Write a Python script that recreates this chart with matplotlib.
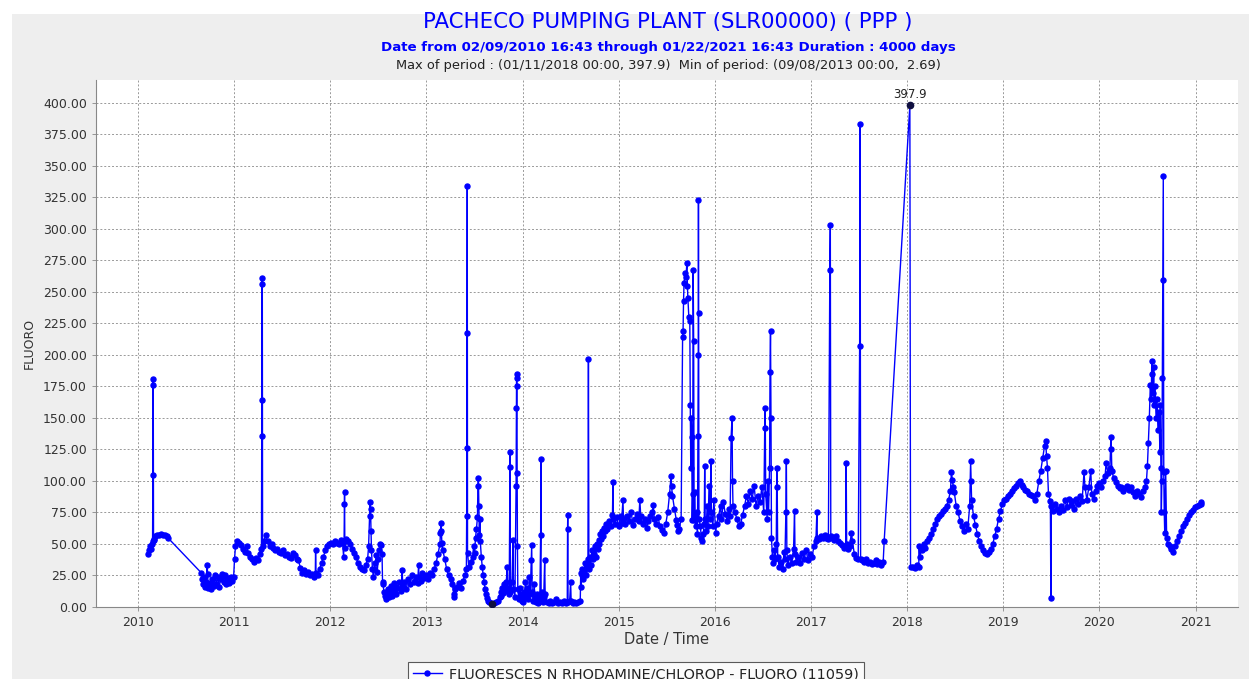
"""
Pacheco Pumping Plant (PPP) fluorometer record, 2010-2021.
Hand-read values from the CDEC time-series plot, redrawn in the same style.
"""

import matplotlib
matplotlib.use("Agg")

import numpy as np
import pandas as pd
import matplotlib.pyplot as plt
import matplotlib.dates as mdates
from matplotlib.patches import Rectangle

# ── Data (decimal year, FLUORO) ───────────────────────────────────────────────
t_2010 = [2010.107, 2010.115, 2010.125, 2010.135, 2010.145, 2010.152, 2010.155, 2010.157,
          2010.159, 2010.162, 2010.17, 2010.18, 2010.20, 2010.22, 2010.24, 2010.26, 2010.28,
          2010.30, 2010.31,
          2010.66, 2010.67, 2010.68, 2010.69, 2010.70, 2010.71, 2010.72, 2010.725, 2010.73,
          2010.745, 2010.76, 2010.775, 2010.79, 2010.80, 2010.815, 2010.83, 2010.845, 2010.86,
          2010.875, 2010.89, 2010.905, 2010.92, 2010.935, 2010.95, 2010.965, 2010.98, 2010.995]
v_2010 = [42, 45, 48, 46, 50, 52, 105, 181,
          176, 53, 54, 56, 57, 57, 58, 57, 57,
          56, 55,
          27, 22, 18, 24, 16, 20, 33, 26, 15,
          19, 14, 22, 17, 25, 18, 24, 16, 22,
          26, 20, 25, 18, 23, 19, 24, 21, 24]

t_2011 = [2011.005, 2011.015, 2011.03, 2011.05, 2011.07, 2011.09, 2011.11, 2011.13, 2011.15,
          2011.17, 2011.19, 2011.21, 2011.23, 2011.25, 2011.27, 2011.285, 2011.288, 2011.29,
          2011.292, 2011.294, 2011.297, 2011.31, 2011.33, 2011.35, 2011.37, 2011.39, 2011.41,
          2011.43, 2011.45, 2011.47, 2011.49, 2011.51, 2011.53, 2011.55, 2011.57, 2011.59,
          2011.61, 2011.63, 2011.65, 2011.67, 2011.69, 2011.71, 2011.73, 2011.75, 2011.77,
          2011.79, 2011.81, 2011.83, 2011.845, 2011.848, 2011.852, 2011.87, 2011.89, 2011.91,
          2011.93, 2011.95, 2011.97, 2011.99]
v_2011 = [38, 48, 52, 51, 49, 46, 44, 48, 43,
          40, 38, 36, 39, 37, 42, 46, 136, 164,
          261, 256, 48, 52, 57, 52, 48, 50, 47,
          45, 46, 44, 43, 45, 41, 42, 40, 39,
          43, 41, 38, 37, 31, 27, 29, 26, 28,
          25, 26, 24, 25, 45, 27, 25, 30, 35,
          40, 45, 48, 50]

t_2012 = [2012.01, 2012.03, 2012.05, 2012.07, 2012.09, 2012.11, 2012.13, 2012.14, 2012.145,
          2012.148, 2012.15, 2012.153, 2012.17, 2012.19, 2012.21, 2012.23, 2012.25, 2012.27,
          2012.29, 2012.31, 2012.33, 2012.35, 2012.37, 2012.39, 2012.40, 2012.41, 2012.415,
          2012.42, 2012.425, 2012.43, 2012.44, 2012.45, 2012.46, 2012.47, 2012.48, 2012.49,
          2012.50, 2012.51, 2012.52, 2012.53, 2012.54, 2012.545, 2012.55, 2012.56, 2012.57,
          2012.58, 2012.59, 2012.60, 2012.61, 2012.62, 2012.63, 2012.64, 2012.65, 2012.66,
          2012.67, 2012.68, 2012.69, 2012.70, 2012.72, 2012.74, 2012.75, 2012.755, 2012.77,
          2012.79, 2012.81, 2012.83, 2012.85, 2012.87, 2012.89, 2012.91, 2012.92, 2012.925,
          2012.94, 2012.96, 2012.98]
v_2012 = [51, 50, 52, 51, 50, 53, 51, 40, 52,
          82, 91, 47, 54, 52, 50, 46, 43, 40,
          35, 32, 30, 29, 33, 38, 48, 72, 83,
          78, 60, 45, 30, 24, 30, 35, 41, 28,
          38, 45, 50, 49, 42, 20, 18, 12, 9,
          6, 10, 14, 8, 12, 17, 9, 14, 19,
          11, 16, 10, 15, 20, 13, 29, 16, 20,
          14, 22, 18, 25, 20, 24, 19, 33, 24,
          21, 27, 23]

t_2013 = [2013.00, 2013.02, 2013.04, 2013.06, 2013.08, 2013.10, 2013.12, 2013.14, 2013.145,
          2013.15, 2013.155, 2013.16, 2013.17, 2013.19, 2013.21, 2013.23, 2013.25, 2013.27,
          2013.285, 2013.29, 2013.30, 2013.32, 2013.34, 2013.36, 2013.38, 2013.40, 2013.415,
          2013.418, 2013.42, 2013.422, 2013.424, 2013.427, 2013.44, 2013.46, 2013.48, 2013.49,
          2013.50, 2013.51, 2013.52, 2013.53, 2013.535, 2013.54, 2013.545, 2013.55, 2013.555,
          2013.56, 2013.57, 2013.58, 2013.59, 2013.60, 2013.61, 2013.62, 2013.63, 2013.64,
          2013.65, 2013.67, 2013.686, 2013.70, 2013.72, 2013.74, 2013.76, 2013.77, 2013.78,
          2013.79, 2013.80, 2013.81, 2013.82, 2013.83, 2013.84, 2013.845, 2013.86, 2013.868,
          2013.87, 2013.873, 2013.89, 2013.90, 2013.905, 2013.92, 2013.932, 2013.935, 2013.937,
          2013.939, 2013.941, 2013.943, 2013.946, 2013.95, 2013.96, 2013.97, 2013.98, 2013.99]
v_2013 = [25, 22, 27, 25, 30, 35, 42, 50, 59,
          67, 60, 51, 45, 38, 30, 25, 22, 18,
          10, 8, 14, 16, 19, 15, 21, 25, 30,
          72, 126, 217, 334, 43, 32, 36, 40, 48,
          43, 55, 62, 71, 96, 102, 80, 57, 70,
          52, 40, 32, 25, 20, 14, 10, 7, 5,
          4, 3.5, 2.69, 3, 4, 5, 8, 12, 9,
          15, 11, 18, 13, 20, 32, 15, 10, 111,
          123, 12, 20, 53, 14, 8, 96, 158, 185,
          182, 175, 106, 48, 14, 6, 15, 10, 5]

t_2014 = [2014.00, 2014.01, 2014.02, 2014.03, 2014.04, 2014.05, 2014.06, 2014.07, 2014.08,
          2014.09, 2014.095, 2014.10, 2014.11, 2014.12, 2014.13, 2014.14, 2014.15, 2014.16,
          2014.17, 2014.18, 2014.188, 2014.19, 2014.193, 2014.20, 2014.21, 2014.22, 2014.23,
          2014.235, 2014.25, 2014.27, 2014.29, 2014.31, 2014.33, 2014.35, 2014.37, 2014.39,
          2014.41, 2014.43, 2014.45, 2014.465, 2014.468, 2014.47, 2014.473, 2014.49, 2014.50,
          2014.505, 2014.52, 2014.54, 2014.56, 2014.58, 2014.60, 2014.605, 2014.61, 2014.615,
          2014.62, 2014.63, 2014.64, 2014.65, 2014.66, 2014.67, 2014.68, 2014.685, 2014.69,
          2014.70, 2014.71, 2014.72, 2014.73, 2014.74, 2014.75, 2014.76, 2014.77, 2014.78,
          2014.79, 2014.80, 2014.81, 2014.82, 2014.83, 2014.84, 2014.85, 2014.86, 2014.87,
          2014.88, 2014.90, 2014.92, 2014.935, 2014.94, 2014.945, 2014.96, 2014.98]
v_2014 = [4, 12, 8, 20, 9, 15, 6, 24, 10,
          37, 49, 12, 5, 18, 7, 4, 10, 3,
          6, 8, 57, 117, 5, 12, 4, 8, 37,
          10, 4, 3, 5, 3, 4, 6, 3, 4,
          3, 5, 3, 4, 62, 73, 4, 5, 20,
          5, 3, 4, 3, 4, 5, 27, 16, 25,
          30, 22, 28, 35, 25, 32, 38, 197, 30,
          40, 33, 45, 38, 42, 48, 40, 50, 46,
          53, 50, 58, 54, 60, 56, 63, 60, 66,
          62, 68, 64, 73, 99, 70, 66, 71]

t_2015 = [2015.00, 2015.02, 2015.03, 2015.045, 2015.05, 2015.07, 2015.09, 2015.11, 2015.13,
          2015.15, 2015.17, 2015.19, 2015.21, 2015.22, 2015.23, 2015.25, 2015.27, 2015.29,
          2015.31, 2015.33, 2015.35, 2015.36, 2015.37, 2015.39, 2015.41, 2015.43, 2015.45,
          2015.47, 2015.49, 2015.51, 2015.53, 2015.545, 2015.55, 2015.56, 2015.58, 2015.60,
          2015.61, 2015.62, 2015.63, 2015.65, 2015.665, 2015.67, 2015.675, 2015.68, 2015.69,
          2015.70, 2015.71, 2015.715, 2015.72, 2015.73, 2015.74, 2015.745, 2015.75, 2015.755,
          2015.76, 2015.765, 2015.77, 2015.775, 2015.78, 2015.785, 2015.79, 2015.80, 2015.81,
          2015.82, 2015.825, 2015.828, 2015.83, 2015.832, 2015.835, 2015.85, 2015.86, 2015.87,
          2015.88, 2015.89, 2015.895, 2015.90, 2015.91, 2015.92, 2015.93, 2015.94, 2015.95,
          2015.96, 2015.965, 2015.98, 2015.99]
v_2015 = [64, 72, 67, 85, 70, 66, 72, 68, 75,
          65, 70, 74, 68, 85, 72, 66, 70, 63,
          68, 72, 75, 81, 70, 66, 71, 64, 61,
          59, 66, 75, 90, 104, 96, 88, 78, 69,
          65, 60, 62, 70, 214, 219, 243, 257, 265,
          262, 273, 255, 245, 230, 227, 160, 110, 150,
          135, 69, 90, 267, 211, 69, 91, 64, 75,
          58, 136, 200, 323, 233, 70, 64, 55, 52,
          58, 66, 112, 70, 60, 80, 64, 96, 70,
          116, 75, 64, 85]

t_2016 = [2016.01, 2016.02, 2016.04, 2016.06, 2016.07, 2016.09, 2016.11, 2016.13, 2016.15,
          2016.16, 2016.17, 2016.18, 2016.185, 2016.19, 2016.21, 2016.23, 2016.25, 2016.27,
          2016.29, 2016.31, 2016.33, 2016.35, 2016.37, 2016.39, 2016.41, 2016.43, 2016.45,
          2016.47, 2016.49, 2016.51, 2016.52, 2016.525, 2016.53, 2016.545, 2016.55, 2016.56,
          2016.57, 2016.575, 2016.58, 2016.585, 2016.59, 2016.60, 2016.61, 2016.62, 2016.63,
          2016.64, 2016.645, 2016.65, 2016.655, 2016.67, 2016.69, 2016.71, 2016.72, 2016.73,
          2016.74, 2016.745, 2016.75, 2016.76, 2016.78, 2016.80, 2016.82, 2016.83, 2016.835,
          2016.85, 2016.87, 2016.89, 2016.91, 2016.93, 2016.95, 2016.97, 2016.99]
v_2016 = [59, 66, 72, 80, 70, 83, 74, 68, 78,
          72, 134, 150, 100, 80, 75, 70, 64, 66,
          73, 80, 88, 82, 92, 86, 96, 80, 88,
          83, 95, 75, 142, 158, 90, 70, 100, 75,
          110, 186, 219, 150, 55, 40, 35, 45, 38,
          50, 110, 95, 40, 32, 36, 30, 44, 38,
          75, 116, 45, 33, 40, 35, 46, 76, 42,
          36, 40, 35, 43, 38, 45, 37, 42]

t_2017 = [2017.01, 2017.03, 2017.05, 2017.06, 2017.065, 2017.08, 2017.10, 2017.12, 2017.14,
          2017.16, 2017.18, 2017.195, 2017.20, 2017.205, 2017.22, 2017.24, 2017.26, 2017.28,
          2017.30, 2017.32, 2017.34, 2017.36, 2017.365, 2017.37, 2017.38, 2017.40, 2017.42,
          2017.43, 2017.45, 2017.47, 2017.49, 2017.505, 2017.51, 2017.515, 2017.53, 2017.55,
          2017.57, 2017.59, 2017.61, 2017.63, 2017.65, 2017.67, 2017.69, 2017.71, 2017.73,
          2017.75, 2017.76]
v_2017 = [40, 48, 52, 75, 55, 54, 56, 55, 57,
          55, 54, 267, 303, 56, 55, 53, 56, 52,
          51, 49, 47, 48, 114, 50, 46, 48, 59,
          52, 42, 39, 38, 207, 383, 38, 37, 36,
          38, 35, 36, 34, 35, 37, 34, 36, 33,
          36, 52]

t_2018 = [2018.028, 2018.035, 2018.06, 2018.08, 2018.10, 2018.12, 2018.125, 2018.13, 2018.15,
          2018.17, 2018.19, 2018.21, 2018.23, 2018.25, 2018.27, 2018.29, 2018.31, 2018.33,
          2018.35, 2018.37, 2018.39, 2018.41, 2018.43, 2018.45, 2018.46, 2018.47, 2018.48,
          2018.49, 2018.51, 2018.53, 2018.55, 2018.57, 2018.59, 2018.61, 2018.63, 2018.65,
          2018.66, 2018.665, 2018.67, 2018.69, 2018.71, 2018.73, 2018.75, 2018.77, 2018.79,
          2018.81, 2018.83, 2018.85, 2018.87, 2018.89, 2018.91, 2018.93, 2018.95, 2018.97,
          2018.99]
v_2018 = [397.9, 32, 32, 31, 33, 32, 48, 40, 45,
          50, 47, 52, 55, 58, 62, 66, 70, 72,
          74, 76, 78, 80, 85, 92, 107, 101, 95,
          91, 80, 75, 68, 64, 60, 66, 62, 80,
          116, 100, 85, 72, 65, 58, 52, 48, 45,
          43, 42, 44, 46, 50, 56, 62, 70, 76,
          82]

t_2019 = [2019.01, 2019.03, 2019.05, 2019.07, 2019.09, 2019.11, 2019.13, 2019.15, 2019.17,
          2019.19, 2019.21, 2019.23, 2019.25, 2019.27, 2019.29, 2019.31, 2019.33, 2019.35,
          2019.37, 2019.39, 2019.41, 2019.43, 2019.44, 2019.45, 2019.46, 2019.47, 2019.49,
          2019.495, 2019.50, 2019.52, 2019.54, 2019.56, 2019.58, 2019.60, 2019.62, 2019.64,
          2019.66, 2019.68, 2019.70, 2019.72, 2019.74, 2019.76, 2019.78, 2019.80, 2019.82,
          2019.84, 2019.85, 2019.87, 2019.89, 2019.91, 2019.92, 2019.94, 2019.96, 2019.98]
v_2019 = [85, 86, 88, 90, 92, 94, 96, 98, 100,
          97, 95, 93, 92, 90, 89, 88, 85, 90,
          100, 108, 118, 128, 132, 120, 110, 90, 84,
          7, 80, 76, 82, 78, 75, 80, 77, 85,
          79, 86, 81, 84, 78, 86, 82, 88, 84,
          107, 95, 85, 95, 108, 90, 86, 92, 96]

t_2020 = [2020.00, 2020.02, 2020.04, 2020.06, 2020.07, 2020.09, 2020.11, 2020.12, 2020.125,
          2020.13, 2020.15, 2020.17, 2020.19, 2020.21, 2020.23, 2020.25, 2020.27, 2020.29,
          2020.31, 2020.33, 2020.35, 2020.37, 2020.39, 2020.41, 2020.43, 2020.45, 2020.47,
          2020.49, 2020.50, 2020.51, 2020.52, 2020.53, 2020.54, 2020.545, 2020.55, 2020.56,
          2020.565, 2020.57, 2020.58, 2020.59, 2020.60, 2020.61, 2020.62, 2020.63, 2020.635,
          2020.64, 2020.645, 2020.65, 2020.655, 2020.66, 2020.665, 2020.67, 2020.675, 2020.68,
          2020.69, 2020.70, 2020.71, 2020.73, 2020.75, 2020.77, 2020.79, 2020.81, 2020.83,
          2020.85, 2020.87, 2020.89, 2020.91, 2020.93, 2020.95, 2020.97, 2020.99,
          2021.01, 2021.03, 2021.05, 2021.06]
v_2020 = [98, 95, 100, 104, 114, 106, 110, 135, 125,
          108, 102, 99, 96, 94, 95, 92, 94, 96,
          93, 95, 91, 88, 92, 90, 87, 92, 95,
          100, 112, 130, 150, 176, 165, 195, 185, 170,
          190, 160, 175, 150, 165, 140, 155, 123, 160,
          110, 75, 100, 182, 259, 342, 107, 75, 59,
          108, 55, 50, 48, 46, 44, 48, 52, 56,
          60, 64, 67, 70, 73, 75, 77, 79,
          80, 81, 82, 83]

MAX_T, MAX_V = 2018.028, 397.9
MIN_T, MIN_V = 2013.686, 2.69

TITLE = "PACHECO PUMPING PLANT (SLR00000) ( PPP )"
SUBTITLE = "Date from 02/09/2010 16:43 through 01/22/2021 16:43 Duration : 4000 days"
PERIOD = "Max of period : (01/11/2018 00:00, 397.9)  Min of period: (09/08/2013 00:00,  2.69)"
LEGEND = "FLUORESCES N RHODAMINE/CHLOROP - FLUORO (11059)"


def to_dates(dec_years):
    out = []
    for y in dec_years:
        yr = int(y)
        start = pd.Timestamp(year=yr, month=1, day=1)
        out.append(start + pd.Timedelta(days=(y - yr) * 365.25))
    return out


t_all = t_2010 + t_2011 + t_2012 + t_2013 + t_2014 + t_2015 + t_2016 + t_2017 + t_2018 + t_2019 + t_2020
v_all = v_2010 + v_2011 + v_2012 + v_2013 + v_2014 + v_2015 + v_2016 + v_2017 + v_2018 + v_2019 + v_2020
dates = to_dates(t_all)

# ── Figure ────────────────────────────────────────────────────────────────────
W, H = 1249, 679
fig = plt.figure(figsize=(W / 100, H / 100), dpi=100, facecolor="white")
fig.patches.append(Rectangle((12 / W, 0), 1 - 12 / W, 1 - 14 / H,
                             transform=fig.transFigure, facecolor="#eeeeee",
                             edgecolor="none", zorder=-10))

ax = fig.add_axes([96 / W, 1 - 607 / H, (1238 - 96) / W, (607 - 80) / H])
ax.set_facecolor("white")

BLUE = "#0000ff"
ax.plot(dates, v_all, color=BLUE, lw=1.0, marker="o", ms=3.6, mfc=BLUE, mec=BLUE, zorder=3)
ax.plot(to_dates([MAX_T, MIN_T]), [MAX_V, MIN_V], ls="none", marker="o", ms=4.5,
        color="#101040", zorder=4)
ax.annotate(f"{MAX_V}", (to_dates([MAX_T])[0], MAX_V), xytext=(0, 3),
            textcoords="offset points", ha="center", va="bottom", fontsize=8.5, color="#222222")

ax.set_xlim(to_dates([2009.563])[0], to_dates([2021.44])[0])
ax.set_ylim(0, 418)
ax.set_yticks(np.arange(0, 401, 25))
ax.yaxis.set_major_formatter(matplotlib.ticker.FormatStrFormatter("%.2f"))
ax.xaxis.set_major_locator(mdates.YearLocator())
ax.xaxis.set_major_formatter(mdates.DateFormatter("%Y"))

ax.grid(True, color="#999999", ls=(0, (2, 2)), lw=0.7)
for side in ["top", "right"]:
    ax.spines[side].set_visible(False)
for side in ["left", "bottom"]:
    ax.spines[side].set_color("#888888")
ax.tick_params(axis="both", labelsize=9, colors="#333333", length=3, width=0.6)
ax.tick_params(axis="both", color="#888888")

ax.set_xlabel("Date / Time", fontsize=10.5, color="#333333", labelpad=2)
ax.set_ylabel("FLUORO", fontsize=9, color="#333333", labelpad=5)

# ── Titles ────────────────────────────────────────────────────────────────────
cx = 668 / W
fig.text(cx, 1 - 22 / H, TITLE, ha="center", va="center", fontsize=15.3, color=BLUE)
fig.text(cx, 1 - 47 / H, SUBTITLE, ha="center", va="center", fontsize=9.6,
         fontweight="bold", color=BLUE)
fig.text(cx, 1 - 66 / H, PERIOD, ha="center", va="center", fontsize=9.4, color="#222222")

# ── Legend ────────────────────────────────────────────────────────────────────
h, = ax.plot([], [], color=BLUE, lw=1.0, marker="o", ms=3.6)
leg = fig.legend([h], [LEGEND], loc="upper center", bbox_to_anchor=(636 / W, 1 - 655 / H),
                 fontsize=10.4, frameon=True, fancybox=False, handlelength=2.0,
                 borderpad=0.35, handletextpad=0.5, labelcolor="#222222")
leg.get_frame().set_edgecolor("#333333")
leg.get_frame().set_linewidth(0.8)

fig.savefig("out.png", dpi=100, facecolor=fig.get_facecolor())
